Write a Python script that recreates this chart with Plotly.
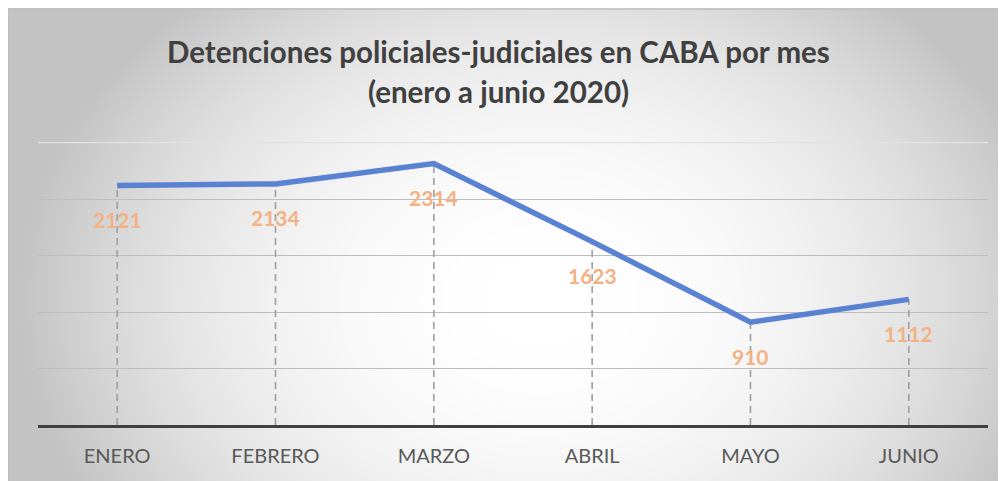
import numpy as np
import plotly.graph_objects as go

months = ["ENERO", "FEBRERO", "MARZO", "ABRIL", "MAYO", "JUNIO"]
detenciones = [2121, 2134, 2314, 1623, 910, 1112]
title_lines = ["Detenciones policiales-judiciales en CABA por mes", "(enero a junio 2020)"]

# page body adds an 8px offset, so the figure is 8px smaller
W, H = 998, 473
OFF = 8

# background radial gradient (style only)
gx = np.linspace(0, W, 120)
gy = np.linspace(1, H, 60)
XX, YY = np.meshgrid(gx + OFF, gy + OFF)
cx, cy, rx, ry = 540, 300, 520, 400
t = np.sqrt(((XX - cx) / rx) ** 2 + ((YY - cy) / ry) ** 2)
shade = np.clip(t, 0, 1) ** 2.2

fig = go.Figure()
fig.add_trace(go.Heatmap(
    x=gx, y=gy, z=shade, zmin=0, zmax=1, zsmooth="best",
    colorscale=[[0, "#ffffff"], [1, "#c3c3c3"]],
    showscale=False, hoverinfo="skip", xaxis="x", yaxis="y"))

# dashed drop lines
dx, dy = [], []
for m, v in zip(months, detenciones):
    dx += [m, m, None]
    dy += [0, v, None]
fig.add_trace(go.Scatter(x=dx, y=dy, mode="lines",
                         line=dict(color="#a3a3a3", width=1.7, dash="7px,5px"),
                         hoverinfo="skip", xaxis="x2", yaxis="y2", showlegend=False))

fig.add_trace(go.Scatter(x=months, y=detenciones, mode="lines",
                         line=dict(color="#5982D2", width=5.5),
                         xaxis="x2", yaxis="y2", showlegend=False))

annotations = []
for m, v in zip(months, detenciones):
    annotations.append(dict(x=m, y=v, xref="x2", yref="y2", text=str(v), showarrow=False,
                            yshift=-34, yanchor="middle",
                            font=dict(family="Lato", size=21, color="#F4B183", weight="bold")))
annotations.append(dict(x=490 / W, y=1 - 44 / H, xref="paper", yref="paper", text=title_lines[0],
                        showarrow=False, xanchor="center", yanchor="middle",
                        font=dict(family="Lato", size=29.5, color="#404040", weight="bold")))
annotations.append(dict(x=490 / W, y=1 - 83 / H, xref="paper", yref="paper", text=title_lines[1],
                        showarrow=False, xanchor="center", yanchor="middle",
                        font=dict(family="Lato", size=29.5, color="#404040", weight="bold")))

fig.update_layout(
    width=W, height=H,
    margin=dict(l=0, r=0, t=0, b=0),
    paper_bgcolor="#ffffff", plot_bgcolor="rgba(0,0,0,0)",
    xaxis=dict(domain=[0, 1], range=[0, W], visible=False, fixedrange=True),
    yaxis=dict(domain=[0, 1], range=[H, 0], visible=False, fixedrange=True),
    xaxis2=dict(domain=[30 / W, 980 / W], anchor="y2", range=[-0.5, 5.5], showgrid=False,
                showline=True, linecolor="#404040", linewidth=2.5, ticks="", ticklabelstandoff=11,
                tickfont=dict(family="Lato", size=20, color="#595959")),
    yaxis2=dict(domain=[(H - 417) / H, (H - 134) / H], anchor="x2", range=[0, 2505],
                tickmode="array", tickvals=[500, 1000, 1500, 2000], showticklabels=False,
                showgrid=True, gridcolor="#bdbdbd", gridwidth=1.2, zeroline=False),
    annotations=annotations,
    shapes=[
        dict(type="line", xref="x2 domain", yref="y2", x0=0, x1=1, y0=2500, y1=2500,
             layer="above", line=dict(color="#e2e2e2", width=1.2)),
        dict(type="rect", xref="paper", yref="paper", x0=0, x1=1.2, y0=-0.1,
             y1=1 - 1 / H, line=dict(color="#c0c0c0", width=1.5)),
    ],
    showlegend=False,
)

fig.write_html("out.html")
